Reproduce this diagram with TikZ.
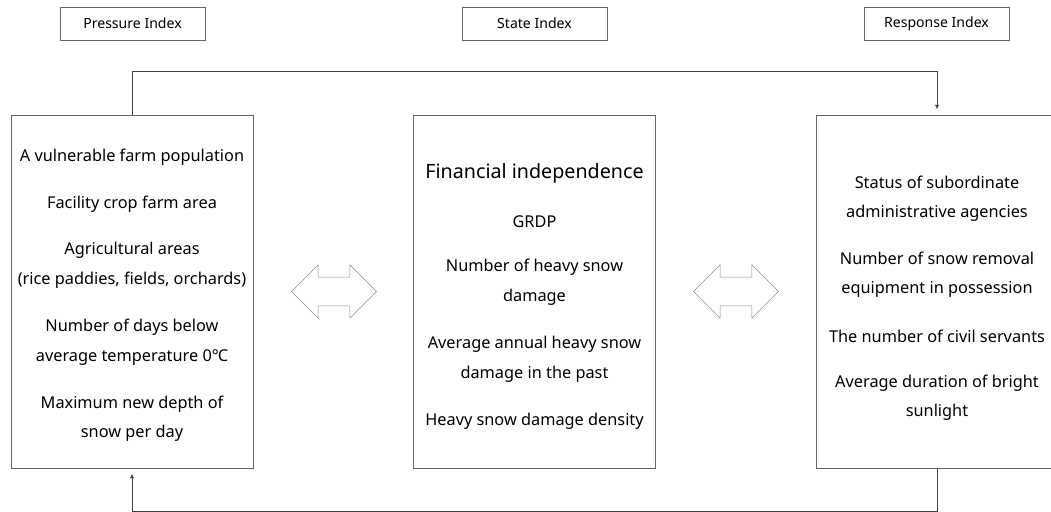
\documentclass[tikz,border=0pt]{standalone}
\usepackage{fontspec}
\setmainfont{Noto Sans}
\usetikzlibrary{positioning,shapes.arrows,arrows.meta}

\begin{document}
\begin{tikzpicture}[
          x=0.025cm, y=-0.025cm,
          every node/.style={font=\fontsize{11.6}{21}\selectfont, align=center, inner sep=0pt},
          tagbox/.style={draw=gray!80!black, thin, minimum width=3.625cm, minimum height=0.825cm, font=\fontsize{10}{12}\selectfont},
          bigbox/.style={draw=gray!80!black, thin, minimum width=6.05cm, minimum height=8.825cm},
          dblarrow/.style={double arrow, draw=gray!90, thin, minimum height=2.125cm, inner xsep=0pt, inner ysep=0.35cm, double arrow head extend=0.31cm},
          link/.style={draw=black!75, thin, -{Latex[length=3pt,width=3pt]}},
        ]
        \useasboundingbox (0,0) rectangle (1051,512);
        % headings
        \node[tagbox] (ptag) at (132.5,23.5) {Pressure Index};
        \node[tagbox] (stag) at (534.5,23.5) {State Index};
        \node[tagbox] (rtag) at (936.5,23.5) {Response Index};
        % main boxes
        \node[bigbox] (pbox) at (132,291.5) {};
        \node[bigbox] (sbox) at (534.5,291.5) {};
        \node[bigbox] (rbox) at (937,291.5) {};
        % pressure items
        \node (p1) at (132,157) {A vulnerable farm population};
        \node (p2) at (132,204) {Facility crop farm area};
        \node (p3) at (132,265) {Agricultural areas\\(rice paddies, fields, orchards)};
        \node (p4) at (132,342) {Number of days below\\average temperature 0℃};
        \node (p5) at (132,418.5) {Maximum new depth of\\snow per day};
        % state items
        \node[font=\fontsize{14}{16}\selectfont] (s1) at (534.5,173) {Financial independence};
        \node (s2) at (534.5,222) {GRDP};
        \node (s3) at (534.5,282) {Number of heavy snow\\damage};
        \node (s4) at (534.5,359) {Average annual heavy snow\\damage in the past};
        \node (s5) at (534.5,421) {Heavy snow damage density};
        % response items
        \node (r1) at (937,198.5) {Status of subordinate\\administrative agencies};
        \node (r2) at (937,274.5) {Number of snow removal\\equipment in possession};
        \node (r3) at (937,336) {The number of civil servants};
        \node (r4) at (937,397.5) {Average duration of bright\\sunlight};
        % two-way arrows
        \node[dblarrow] (psarrow) at (334,291.5) {};
        \node[dblarrow] (srarrow) at (736,291.5) {};
        % feedback loop
        \draw[link, shorten >=4pt] (pbox.north) -- ++(0,-43) -| (rbox.north);
        \draw[link, shorten >=4pt] (rbox.south) -- ++(0,43) -| (pbox.south);
      \end{tikzpicture}
\end{document}
